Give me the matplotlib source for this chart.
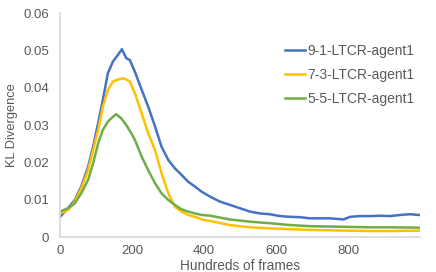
import matplotlib
matplotlib.use("Agg")
import matplotlib.pyplot as plt

plt.rcParams['font.family'] = ['Liberation Sans', 'DejaVu Sans']

# ---- data ----
blue_x = [0, 22, 41, 59, 78, 92, 106, 119, 133, 147, 161, 172, 184, 194, 208,
          227, 245, 264, 282, 301, 319, 338, 356, 375, 394, 417, 444, 472, 500,
          528, 556, 583, 611, 639, 667, 694, 722, 750, 787, 806, 833, 861, 889,
          917, 944, 972, 998]
blue_y = [0.0054, 0.0077, 0.0099, 0.0135, 0.0188, 0.0242, 0.0305, 0.0367, 0.0439,
          0.0470, 0.0488, 0.0503, 0.0479, 0.0474, 0.0443, 0.0394, 0.0349, 0.0296,
          0.0242, 0.0206, 0.0184, 0.0166, 0.0148, 0.0135, 0.0121, 0.0108, 0.0095,
          0.0086, 0.0077, 0.0068, 0.0063, 0.0061, 0.0056, 0.0054, 0.0053, 0.0050,
          0.0050, 0.0050, 0.0047, 0.0054, 0.0056, 0.0056, 0.0057, 0.0056, 0.0059,
          0.0061, 0.0059]

yellow_x = [0, 22, 41, 59, 78, 92, 106, 119, 133, 147, 161, 175, 184, 194, 208,
            227, 245, 264, 282, 301, 319, 338, 356, 375, 394, 417, 472, 528, 583,
            639, 694, 750, 806, 861, 917, 998]
yellow_y = [0.0063, 0.0072, 0.0095, 0.0130, 0.0179, 0.0233, 0.0287, 0.0349, 0.0394,
            0.0416, 0.0422, 0.0425, 0.0422, 0.0416, 0.0385, 0.0331, 0.0278, 0.0233,
            0.0171, 0.0117, 0.0081, 0.0068, 0.0059, 0.0054, 0.0047, 0.0043, 0.0032,
            0.0026, 0.0023, 0.0021, 0.0019, 0.0018, 0.0017, 0.0016, 0.0016, 0.0017]

green_x = [0, 22, 41, 59, 78, 92, 106, 119, 133, 147, 156, 170, 184, 198, 208,
           227, 245, 264, 282, 301, 319, 338, 356, 375, 394, 417, 472, 528, 583,
           639, 694, 750, 806, 861, 917, 998]
green_y = [0.0068, 0.0077, 0.0090, 0.0117, 0.0153, 0.0197, 0.0251, 0.0287, 0.0309,
           0.0322, 0.0329, 0.0318, 0.0300, 0.0278, 0.0260, 0.0215, 0.0179, 0.0144,
           0.0117, 0.0099, 0.0086, 0.0074, 0.0068, 0.0063, 0.0059, 0.0057, 0.0047,
           0.0041, 0.0037, 0.0032, 0.0029, 0.0028, 0.0027, 0.0026, 0.0026, 0.0025]

labels = ["9-1-LTCR-agent1", "7-3-LTCR-agent1", "5-5-LTCR-agent1"]
colors = ["#4472C4", "#FFC000", "#70AD47"]
x_ticks = [0, 200, 400, 600, 800]
y_ticks = [0, 0.01, 0.02, 0.03, 0.04, 0.05, 0.06]
y_ticklabels = ["0", "0.01", "0.02", "0.03", "0.04", "0.05", "0.06"]

W, H = 436, 272
fig = plt.figure(figsize=(W / 100, H / 100), dpi=100)
ax = fig.add_axes([60 / W, 1 - 237 / H, 360 / W, 224 / H])

series = [(blue_x, blue_y), (yellow_x, yellow_y), (green_x, green_y)]
for (xs, ys), lab, c in zip(series, labels, colors):
    ax.plot(xs, ys, color=c, lw=1.8, label=lab, solid_joinstyle='round')

ax.set_xlim(0, 1000)
ax.set_ylim(0, 0.06)
ax.set_xticks(x_ticks)
ax.set_yticks(y_ticks)
ax.set_yticklabels(y_ticklabels)

txt = "#595959"
ax.tick_params(axis='both', length=0, labelsize=9.5, colors=txt)
ax.tick_params(axis='x', pad=6)
ax.tick_params(axis='y', pad=8)
for s in ['top', 'right']:
    ax.spines[s].set_visible(False)
for s in ['left', 'bottom']:
    ax.spines[s].set_color("#D9D9D9")
    ax.spines[s].set_linewidth(1.2)

ax.set_xlabel("Hundreds of frames", fontsize=9.8, color=txt, va='center')
ax.xaxis.set_label_coords(0.5, -0.128)
ax.set_ylabel("KL Divergence", fontsize=9.3, color=txt, va='center')
ax.yaxis.set_label_coords(-0.133, 0.5)

leg = ax.legend(loc='upper left', bbox_to_anchor=(285 / W, 1 - 44 / H),
                bbox_transform=fig.transFigure, frameon=False, fontsize=10,
                handlelength=1.45, handletextpad=0.15, labelspacing=0.72,
                borderpad=0, borderaxespad=0)
for t in leg.get_texts():
    t.set_color(txt)

fig.savefig("out.png", dpi=100)
